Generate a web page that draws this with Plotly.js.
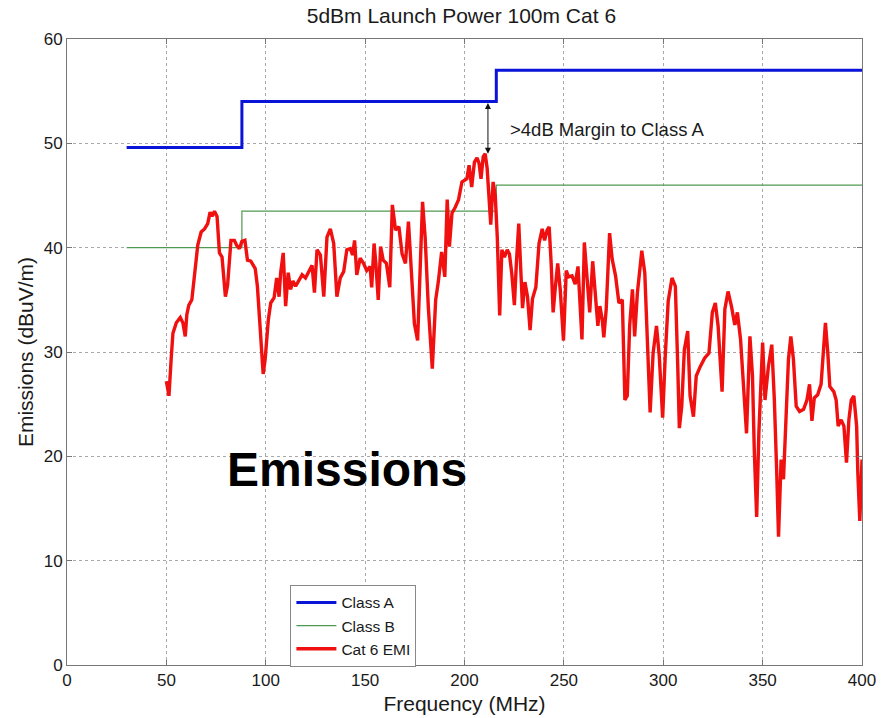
<!DOCTYPE html>
<html>
<head>
<meta charset="utf-8">
<script src="https://cdn.plot.ly/plotly-3.0.1.min.js"></script>
<style>
  html, body { margin: 0; padding: 0; background: #fff; }
  #chart { width: 889px; height: 718px; }
</style>
</head>
<body>
<div id="chart"></div>
<script>
// Radiated emission limits (3 m), stepped at 88 and 216 MHz
const classAFreq = [30, 88, 216, 400];
const classALevel = [49.6, 54, 57, 57];
const classBFreq = [30, 88, 216, 400];
const classBLevel = [40, 43.5, 46, 46];

// Measured Cat 6 emissions, 100 m cable, 5 dBm launch power
const emiFreq = [
  50, 51.3, 52.5, 53.3, 55, 57, 58.3, 59.5, 60.3, 61.3, 62.8, 64.2, 65.8, 67.5, 69.2, 70.8, 72, 73, 74.2, 75.5,
  76.7, 78, 79.7, 80.8, 82.5, 84.2, 85.3, 86.7, 88, 89.5, 90.8, 92.5, 94.7, 95.8, 97.5, 98.7, 99.7, 101.3, 102.5, 104.2,
  105.5, 106.7, 107.5, 108.8, 110, 111.3, 112.5, 113.7, 115, 116.7, 118.3, 120, 121.7, 123.3, 124.5, 125.8, 127.5, 129.2, 130.8, 132.5,
  134.2, 135.8, 137.5, 139.2, 140.8, 142.5, 143.7, 144.7, 145.8, 147.5,
  149.2, 150.8, 152.5, 153.3, 154.5, 155.4, 156.6, 157.8, 159.1, 160.7, 162.4, 163.7, 165.3, 167, 168.6, 170.3, 171.8, 173.1, 174.8, 176.4,
  177.7, 178.9, 180.2, 181.8, 183.8, 185.5, 186.8, 188.5, 190.1, 191.3, 192.4, 193.7, 195.4, 197, 198.7, 200, 201.2, 202.3, 203.6, 205,
  206.3, 207.3, 208.3, 209.4, 210.4, 211.4, 212.4, 213.2, 214.4, 215.5, 216.5, 217.7, 218.8, 220.1, 221.5, 222.6, 223.8, 225.1, 226.1, 227.3,
  228.4, 229.2, 230.4, 231.7, 233, 234.2, 235.9, 237.5, 239.1, 240.3, 241.6, 242.6, 243.6, 244.6, 245.7, 246.9, 248.2, 249.8, 251.2, 252.3,
  254.1, 255.7, 257.1, 258.3, 259.1, 260.3, 261.7, 263, 264.5, 265.9, 267.1, 268.1, 269.3, 270.1, 271.3, 273, 274.3, 276, 277.7, 279.4,
  280.7, 281.9, 283.1, 284.5, 285.6, 287, 289.2, 290.7, 292.1, 293.4, 294.9, 296.6, 298, 299.7, 301, 302.5, 304.4, 306.1, 307.3, 308.1,
  309.3, 310.6, 312.3, 313.5, 315.2, 316.6, 318.6, 320.8, 323, 324.7, 326.2, 327.6, 329.6, 331, 332.6, 334.3, 336, 337.3, 338.9, 340.5,
  341.9, 343.6, 344.9, 345.8, 347, 348.1, 349.2, 350, 351.2, 352.9, 354.6, 355.9, 357.1, 358, 359.3, 360.5, 361.8, 363, 364.2, 365.5,
  366.9, 368.6, 370.6, 372.3, 373.6, 374.8, 376, 377.7, 379.4, 380.4, 381.6, 382.8, 383.8, 385.8, 387, 388, 389.5, 390.9, 392.2, 393.4,
  394.6, 395.9, 397.3, 397.9, 398.9, 400
];
const emiLevel = [
  27.2, 25.8, 29.6, 31.8, 32.8, 33.3, 32.8, 31.5, 33.6, 34.5, 35.0, 37.2, 40.25, 41.5, 41.8, 42.3, 43.4, 43.0, 43.5, 43.0,
  39.5, 39.1, 35.3, 36.4, 40.7, 40.7, 40.25, 39.9, 40.6, 40.7, 38.8, 38.7, 38.0, 36.3, 30.9, 27.9, 29.3, 33.1, 34.7, 35.2,
  37.1, 35.3, 37.6, 39.5, 34.4, 37.6, 36.0, 36.8, 36.3, 36.8, 37.4, 37.1, 37.7, 38.3, 35.7, 39.8, 39.3, 35.3, 41.0, 41.8,
  40.4, 35.3, 37.1, 37.7, 39.8, 39.9, 39.3, 40.7, 37.4, 39.0,
  38.5, 37.8, 38.2, 36.2, 40.4, 38.5, 35.0, 40.1, 38.8, 38.5, 36.2, 44.1, 41.7, 42.0, 39.4, 38.5, 42.5, 38.5, 32.7, 31.1,
  37.5, 44.4, 41.0, 34.3, 28.4, 35.0, 36.7, 39.6, 37.2, 44.6, 40.1, 43.3, 43.9, 44.6, 46.3, 46.5, 46.6, 47.9, 45.8, 48.2,
  48.6, 48.1, 46.6, 48.7, 49.0, 47.6, 45.0, 42.2, 46.3, 44.9, 41.0, 33.5, 39.8, 39.1, 39.8, 39.4, 37.5, 34.5, 38.5, 42.3,
  37.5, 34.2, 36.7, 35.3, 32.1, 35.1, 36.2, 40.4, 41.8, 40.7, 41.7, 42.0, 38.5, 33.8, 36.2, 38.5, 35.9, 31.1, 37.8, 37.2,
  37.3, 36.5, 38.2, 34.4, 31.2, 40.5, 36.6, 33.8, 38.7, 34.7, 32.5, 34.4, 33.1, 31.4, 34.1, 41.4, 38.9, 37.3, 34.7, 35.0,
  25.4, 25.8, 32.5, 36.0, 31.5, 35.7, 39.7, 37.6, 30.2, 24.2, 29.9, 32.5, 29.6, 23.7, 29.6, 34.9, 37.1, 36.3, 28.6, 22.7,
  24.8, 30.2, 32.0, 25.8, 23.8, 27.7, 28.6, 29.4, 29.9, 33.8, 34.7, 32.5, 26.2, 34.1, 35.8, 34.4, 32.6, 33.8, 31.2, 26.7,
  22.2, 31.5, 27.7, 20.6, 14.2, 22.2, 28.6, 30.9, 25.4, 28.6, 30.7, 25.4, 18.4, 12.3, 19.7, 17.8, 23.8, 29.3, 31.5, 29.3,
  24.8, 24.3, 24.5, 25.4, 26.9, 23.4, 25.6, 25.9, 26.9, 29.9, 32.8, 29.9, 26.7, 26.2, 25.4, 22.9, 23.5, 22.9, 19.4, 23.5,
  25.4, 25.8, 22.9, 18.4, 13.8, 19.7
];

const xTicks = [0, 50, 100, 150, 200, 250, 300, 350, 400];
const yTicks = [0, 10, 20, 30, 40, 50, 60];

const FONT = '"Liberation Sans", Arial, Helvetica, sans-serif';
const INK = '#1a1a1a';

const traces = [
  {
    x: classAFreq, y: classALevel, name: 'Class A', type: 'scatter', mode: 'lines',
    line: { color: '#0a14d8', width: 3, shape: 'hv' }
  },
  {
    x: classBFreq, y: classBLevel, name: 'Class B', type: 'scatter', mode: 'lines',
    line: { color: '#4f9a52', width: 1.2, shape: 'hv' }
  },
  {
    x: emiFreq, y: emiLevel, name: 'Cat 6 EMI', type: 'scatter', mode: 'lines',
    line: { color: '#f01010', width: 3.4 }
  }
];

const axisCommon = {
  showline: true, linecolor: '#777', linewidth: 1, mirror: 'allticks',
  ticks: 'inside', ticklen: 5, tickcolor: '#777',
  showgrid: true, gridcolor: '#a8a8a8', griddash: 'dot', gridwidth: 1,
  zeroline: false, tickfont: { family: FONT, size: 17, color: INK }
};

const layout = {
  width: 889, height: 718,
  margin: { l: 67, r: 27, t: 39, b: 53 },
  paper_bgcolor: '#fff', plot_bgcolor: '#fff',
  font: { family: FONT, color: INK },
  title: {
    text: '5dBm Launch Power 100m Cat 6',
    font: { family: FONT, size: 21, color: INK },
    x: 0.519, xanchor: 'center', y: 0.978, yanchor: 'middle'
  },
  xaxis: Object.assign({}, axisCommon, {
    range: [0, 400], tickvals: xTicks, ticktext: xTicks.map(String),
    title: { text: 'Frequency (MHz)', font: { family: FONT, size: 21, color: INK }, standoff: 6 }
  }),
  yaxis: Object.assign({}, axisCommon, {
    range: [0, 60], tickvals: yTicks, ticktext: yTicks.map(String),
    title: { text: 'Emissions (dBuV/m)', font: { family: FONT, size: 21, color: INK }, standoff: 4 }
  }),
  showlegend: true,
  legend: {
    x: 0.281, y: 0.128, xanchor: 'left', yanchor: 'top',
    bgcolor: '#fff', bordercolor: '#888', borderwidth: 1,
    font: { family: FONT, size: 15.5, color: INK },
    tracegroupgap: 0, itemwidth: 40
  },
  annotations: [
    {
      x: 211.8, y: 49.0, ax: 211.8, ay: 54.0, axref: 'x', ayref: 'y', xref: 'x', yref: 'y',
      text: '', showarrow: true, arrowhead: 2, startarrowhead: 2, arrowside: 'end+start',
      arrowsize: 1.2, arrowwidth: 1, arrowcolor: '#111', standoff: 0, startstandoff: 0
    },
    {
      x: 222, y: 51.3, xref: 'x', yref: 'y', xanchor: 'left', yanchor: 'middle',
      text: '>4dB Margin to Class A', showarrow: false,
      font: { family: FONT, size: 18.5, color: INK }
    },
    {
      x: 141, y: 18.7, xref: 'x', yref: 'y', xanchor: 'center', yanchor: 'middle',
      text: '<b>Emissions</b>', showarrow: false,
      font: { family: FONT, size: 48, color: '#000' }
    }
  ]
};

Plotly.newPlot('chart', traces, layout, { displayModeBar: false, staticPlot: true });
</script>
</body>
</html>
